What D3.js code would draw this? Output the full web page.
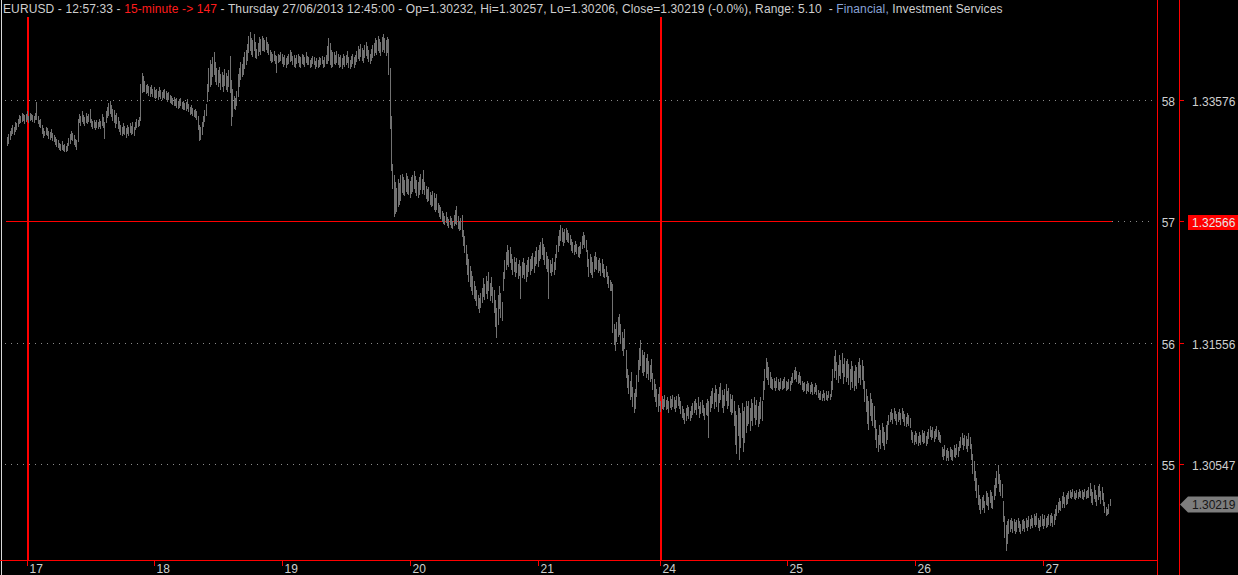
<!DOCTYPE html>
<html>
<head>
<meta charset="utf-8">
<script src="https://cdn.jsdelivr.net/npm/d3@7"></script>
<style>
  html, body { margin: 0; padding: 0; background: #000; overflow: hidden; }
  svg { display: block; font-family: "Liberation Sans", Arial, sans-serif; }
  text { white-space: pre; }
</style>
</head>
<body>
<script>
// EURUSD 15 minute bars, values in pips above 1.3000
var highs = [
328,330,333, 335,338,336,340,339, 343,346,345,348,347,346, 347,349,345,348,347,346,345,348,357,
345,342,343, 338,335,333,336, 335,333,332,334,331,329, 328,326,325,323,322,324,321,322,320,323,
327,330,333,331,329,326, 325, 343,347,345,349,346,344,348,345,347,351, 343,341,342,340,342,340,343,341,
347,344,340, 349,353,356,358,354,351, 350,346,348,344, 341,338,336,339,337,335,338,336,339,337,340,336,
340,343,342,344, 372,381,378,
374,371,372,370,369,371,368,369,367,368,366,369,367,365,367,368,366,364,365,363,
362,360,361,359,360,358,359,360,357,358,356,357,359, 355,353,354,352,350,351,349,
345,338,336,340, 345,350,355, 372,385,392,388,394,398, 390,385,383,386,380,382,379,384,381,378,383,
395,375,368, 362,360,366, 380,385,390,388,394,398,400, 405,412,415,410,408,413,407,401,406,411,409,412,
410,408,411,407,405, 400,398,397,399,396,395,397,396,398, 397,394,396,393,395,
397,400,398,395,396,393,396,397,395,394,397,396,394,398,395,
394,392,393,395,394,391,393,392,394,393,395,392,394,396, 403,410,406,400,398,
398,396,399,397,394,396,393,397,395,396,399,394,392,395,397,394,396,
399,403,401,405,402,400,404,407,403,400,397,401,404, 406,410,408,412,409,407,411,413,410,408,411,
409,385, 345,305, 296,290,285,293,289,296,
297,294,292,298,295,293,291,294,296,299,295,292,290,294,297,293,300,
290,287,284,286,282,279,283,281,277,280,
273,271,269,266,264,262,265,261,259,262,260,258,263,267,270,262,258,260,
263,250,245, 238,230,226,220,216,212,208, 204,200,196,194,198, 202,210,205,212,208,215,206,211,203,
200,192,185,196,204,198,190, 215,225,232,238,234,236,
230,226,228,224,227,222,225,220,224,227,223,221,225,228,226,229,231,228,
233,236,234,238,240,244,239,236,232,229,226, 225,222,227,224,230, 238,245,250,254,252,249,251,
252,250,248,246, 243,240,238,241,239,236,237, 240,245,249,246,242, 234,226,230,228,224,229,232,
228,225,227,223,226,222,218,220, 215,212,209,207, 205,172,168,174,178,180,172,165,160,168,
150,135,130,125,132,120,115,118, 130,142,152,159,150,146,149,144,147,141,138,143, 131,126,122,118,114,120,
108,112,110,113,109,111,108,112,110,113,111,109,112,114,111, 108,104,101,98,102,105,103,100,104,106,
108,110,106,111,104,107,109,105,102,106,
110,108,112,116,119,115,121,118,114,120,123,117,113,118,122,116,119,114,110,113,
108,100,96,105,102,98,106,100,103,108, 104,108,102,110,106,111,105,109,104,107,111,108,
125,135,144,140,136,132, 128,126,127,125,128,126,124,127,125,126,128,125,124,126,125,
128,131,134,136,133,130,132,129, 125,123,124,122,125,123,121,124,122,120,123,121,
117,115,116,114,117,115,116,113,116,114, 125,135,145,150,140,138,146,142,148,139,144,141,
143,139,135,141,137,133,138,136,140,144,138,142,137, 125,118,112,108,115,110,106,104,
92,85,80,88,84,90,86,82,88,91,
96,99,101,98,102,100,97,99,101,98,102,100,97,95,98,96,94,
84,82,80,83,81,79,82,80,84,81,83,79,82, 85,87,84,86,83,85,87,84,82,80,
70,68,71,67,69,66,70,68,67,71,69,72,70, 75,78,81,77,80,79,76,81,78,
72,64,58,50,44,38,30,26, 28,30,25,33,31,28,34,32,29, 38,44,50,55,47,42,39, 25,12,5,8,10,
9,11,8,10,7,9,11,8,6,9,10,8,11,9,
12,10,13,11,14,12,15,11,9,12,14,10,13,11,12,14,13,15,12,14,
18,21,24,27,25,29,32,28,30,31, 33,34,32,35,33,31,34,32,35,33,34,32,35,33,34,
36,40,35,32,38,34,30,37,39,33,36,31, 24,20,18,22,26
];
var lows = [
321,323,326, 329,331,330,333,334, 337,339,340,341,342,339, 341,343,340,342,343,341,340,343,343,
339,337,336, 331,328,329,330, 329,327,326,328,325,324, 322,320,319,318,317,318,317,316,316,317,
321,323,326,325,322,320, 318, 324,340,338,341,339,338,340,339,341,340, 337,335,336,334,336,335,337,335,
338,336,327, 340,344,346,348,345,342, 340,336,339,335, 333,330,329,331,330,328,331,329,332,330,331,329,
334,336,337,338, 342,365,366,
366,364,365,363,362,364,362,361,360,361,359,362,360,359,361,360,359,358,359,357,
356,355,354,354,353,352,353,354,352,351,351,350,352, 349,347,348,346,345,344,343,
334,325,326,330, 337,341,346, 358,366,370,372,378,380, 374,372,370,373,368,370,366,371,368,366,370,
365,338,345, 352,351,354, 362,370,376,378,380,385,388, 392,398,400,397,395,400,394,393,396,399,397,400,
400,399,401,398,397, 392,390,391,392,389,382,390,391,392, 389,387,388,386,388,
389,391,392,388,387,386,389,390,387,386,389,388,387,390,388,
388,386,387,389,388,385,387,386,387,388,389,386,387,389, 389,392,388,386,387,
389,388,390,388,386,387,385,388,387,388,390,386,385,387,389,386,388,
391,393,392,395,392,390,394,396,393,391,389,392,394, 396,398,397,400,398,396,399,401,398,396,398,
380,335, 300,285, 262,264,266,270,272,275,
282,280,279,283,281,280,278,281,283,285,282,279,278,280,284,281,284,
280,277,274,275,272,270,271,268,266,268,
265,262,260,258,256,255,257,254,253,255,253,252,254,256,255,252,250,251,
245,238,232, 222,214,208,204,200,197,194, 192,188,185,182,186, 190,195,193,198,194,200,192,196,190,
182,170,161,172,185,178,175, 200,210,218,222,220,224,
218,214,216,212,215,210,213,194,211,214,210,208,212,216,214,217,219,215,
221,223,220,225,227,230,226,222,219,216,194, 215,213,216,214,218, 228,233,238,242,241,238,240,
243,241,240,239, 234,232,230,233,231,229,228, 231,235,239,236,233, 220,212,215,214,211,216,219,
218,215,217,213,215,212,211,212, 206,203,200,200, 165,155,150,158,162,164,156,150,146,152,
128,120,115,110,112,104,99,102, 112,125,135,138,132,130,133,128,131,126,125,127, 118,112,108,104,100,105,
100,102,101,104,101,102,99,103,101,104,102,100,103,105,102, 98,95,93,90,92,96,94,92,95,97,
99,101,97,102,95,98,99,96,93,97,
96,78,100,103,106,102,108,104,100,107,110,103,99,105,109,102,105,100,97,99,
88,72,65,80,60,70,78,66,74,82, 88,90,84,92,88,95,89,93,87,90,94,92,
110,118,128,126,122,120, 119,118,120,117,120,118,117,119,118,119,120,117,118,119,117,
122,124,126,127,125,123,124,122, 118,116,117,115,117,116,115,116,114,115,116,114,
111,110,110,109,111,109,110,109,111,110, 112,118,128,134,126,124,130,127,132,123,129,125,
128,122,118,125,120,117,121,119,124,128,122,126,119, 108,100,90,85,96,92,88,86,
76,70,66,72,69,74,71,68,73,76,
89,91,93,90,94,92,89,91,93,89,94,91,88,87,90,88,86,
76,74,72,75,73,71,74,72,75,73,74,71,73, 77,79,76,78,75,77,79,76,75,74,
62,60,63,59,61,59,62,60,59,62,61,64,62, 67,70,72,68,71,69,66,71,69,
60,48,42,34,28,22,18,15, 18,20,16,22,21,18,24,20,19, 26,30,36,40,33,30,28, 8,-5,-16,-10,-2,
0,2,-1,1,-2,0,3,0,-2,1,2,0,3,1,
4,2,5,3,6,4,6,3,1,4,5,2,5,3,4,6,5,7,4,6,
10,13,16,18,17,20,23,20,22,23, 27,28,27,29,27,26,28,27,29,28,27,26,29,27,28,
28,30,24,22,27,25,21,26,29,23,26,21, 16,13,14,15,21
];

var dayLabels = ["17","18","19","20","21","24","25","26","27"];
var dayBars = [15,110,206,302,398,490,585,681,777];   // bar index where each day starts
var weekBars = [15,490];                              // monday separators

var levelNames = ["58","57","56","55"];
var levelPrices = [1.33576,1.32566,1.31556,1.30547];
var markedPrice = 1.32566;   // red horizontal line + red label
var lastPrice = 1.30219;

var headerParts = [
  ["EURUSD - 12:57:33 - ", "#cfcfcf"],
  ["15-minute -> 147", "#ff1c1c"],
  [" - Thursday 27/06/2013 12:45:00 - Op=1.30232, Hi=1.30257, Lo=1.30206, Close=1.30219 (-0.0%), Range: 5.10  - ", "#cfcfcf"],
  ["Financial,", "#8aa3d6"],
  [" Investment Services", "#cfcfcf"]
];

var W = 1238, H = 575;
var axisY = 560.5, plotRight = 1157.5, scaleRight = 1179.5;
var barColour = "#727272", red = "#ff0000", txt = "#cfcfcf";

var svg = d3.select("body").append("svg")
    .attr("width", W).attr("height", H);
svg.append("rect").attr("width", W).attr("height", H).attr("fill", "#000");

var x = d3.scaleLinear().domain([0, highs.length - 1]).range([7, 1109.6]);
var y = d3.scaleLinear().domain([1.30547, 1.33576]).range([465, 101]);
function px(v) { return 1.3 + v / 10000; }
function snap(v) { return Math.round(v) + 0.5; }

var lastX = snap(x(highs.length - 1)) + 1;

// left border
svg.append("line").attr("x1", 1.5).attr("x2", 1.5).attr("y1", 0).attr("y2", H)
    .attr("stroke", "#d8d8d8");

// dotted price levels
svg.selectAll(".lvl").data(levelPrices).enter().append("line")
    .attr("class", "lvl")
    .attr("x1", function(d) { return d == markedPrice ? lastX : 5; })
    .attr("x2", 1153)
    .attr("y1", function(d) { return snap(y(d)) - 1; })
    .attr("y2", function(d) { return snap(y(d)) - 1; })
    .attr("stroke", "#8a8a8a").attr("stroke-dasharray", "1,5")
    .attr("shape-rendering", "crispEdges");

// red horizontal marker line
svg.append("line").attr("x1", 6).attr("x2", lastX)
    .attr("y1", snap(y(markedPrice)) - 1).attr("y2", snap(y(markedPrice)) - 1)
    .attr("stroke", red).attr("shape-rendering", "crispEdges");

// week separators
svg.selectAll(".wk").data(weekBars).enter().append("line")
    .attr("class", "wk")
    .attr("x1", function(d) { return Math.round(x(d)) + 1; })
    .attr("x2", function(d) { return Math.round(x(d)) + 1; })
    .attr("y1", 17).attr("y2", axisY)
    .attr("stroke", red).attr("stroke-width", 2)
    .attr("shape-rendering", "crispEdges");

// bars
svg.append("g").selectAll("line").data(highs).enter().append("line")
    .attr("x1", function(d, i) { return snap(x(i)); })
    .attr("x2", function(d, i) { return snap(x(i)); })
    .attr("y1", function(d) { return Math.round(y(px(d))); })
    .attr("y2", function(d, i) { return Math.round(y(px(lows[i]))) + 1; })
    .attr("stroke", barColour)
    .attr("shape-rendering", "crispEdges");

// bottom axis
svg.append("line").attr("x1", 0).attr("x2", plotRight).attr("y1", axisY).attr("y2", axisY)
    .attr("stroke", red).attr("stroke-width", 1.2);
svg.selectAll(".dtick").data(dayBars).enter().append("line")
    .attr("class", "dtick")
    .attr("x1", function(d) { return snap(x(d)); })
    .attr("x2", function(d) { return snap(x(d)); })
    .attr("y1", axisY).attr("y2", axisY + 5)
    .attr("stroke", red).attr("shape-rendering", "crispEdges");
svg.selectAll(".dlab").data(dayBars).enter().append("text")
    .attr("class", "dlab")
    .attr("x", function(d) { return snap(x(d)) + 2; })
    .attr("y", 573)
    .attr("fill", txt).attr("font-size", 12)
    .text(function(d, i) { return dayLabels[i]; });

// right scale frame
[plotRight, scaleRight].forEach(function(v) {
  svg.append("line").attr("x1", v).attr("x2", v).attr("y1", 0).attr("y2", H)
      .attr("stroke", red).attr("shape-rendering", "crispEdges");
});

var lvlG = svg.selectAll(".lv").data(levelPrices).enter().append("g").attr("class", "lv");
lvlG.append("text")
    .attr("x", 1175).attr("y", function(d) { return y(d) + 5; })
    .attr("text-anchor", "end").attr("fill", txt).attr("font-size", 12)
    .text(function(d, i) { return levelNames[i]; });
lvlG.append("line")
    .attr("x1", 1180).attr("x2", 1184)
    .attr("y1", function(d) { return snap(y(d)) - 1; })
    .attr("y2", function(d) { return snap(y(d)) - 1; })
    .attr("stroke", red).attr("shape-rendering", "crispEdges");
lvlG.filter(function(d) { return d == markedPrice; }).append("rect")
    .attr("x", 1188).attr("y", function(d) { return Math.round(y(d)) - 7; })
    .attr("width", 50).attr("height", 15).attr("fill", red);
lvlG.append("text")
    .attr("x", 1192).attr("y", function(d) { return y(d) + 5; })
    .attr("fill", function(d) { return d == markedPrice ? "#e6e6e6" : txt; })
    .attr("font-size", 12)
    .text(function(d) { return d.toFixed(5); });

// last price tag
var ly = Math.round(y(lastPrice));
svg.append("path")
    .attr("d", "M1180," + (ly + 0.5) + "L1188," + (ly - 7.5) + "L1238," + (ly - 7.5) +
               "L1238," + (ly + 8.5) + "L1188," + (ly + 8.5) + "Z")
    .attr("fill", "#7d7d7d");
svg.append("text").attr("x", 1192).attr("y", ly + 5)
    .attr("fill", "#161616").attr("font-size", 12)
    .text(lastPrice.toFixed(5));

// header
var head = svg.append("text").attr("x", 3).attr("y", 13).attr("font-size", 12)
    .attr("letter-spacing", 0.12);
head.selectAll("tspan").data(headerParts).enter().append("tspan")
    .attr("fill", function(d) { return d[1]; })
    .text(function(d) { return d[0]; });
</script>
</body>
</html>
